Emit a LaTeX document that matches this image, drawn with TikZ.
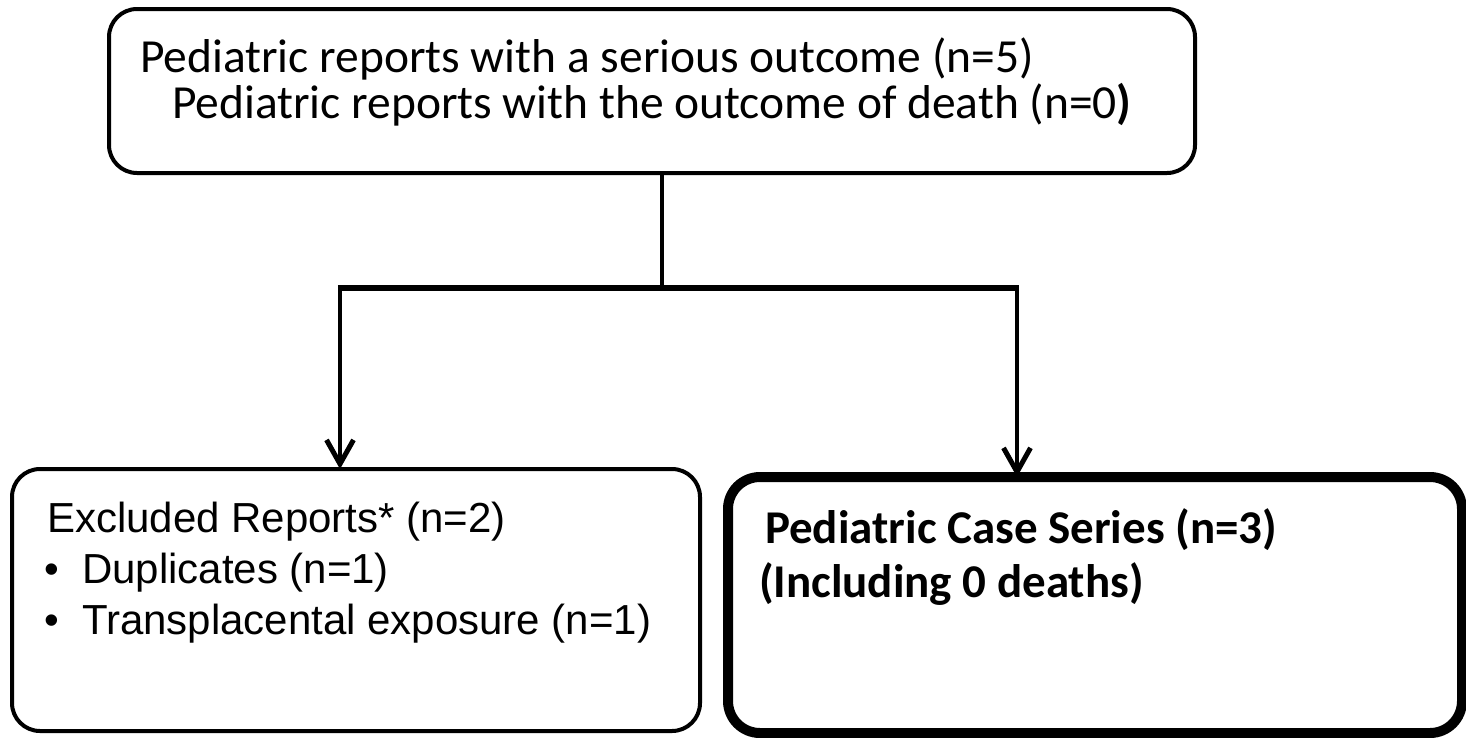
\documentclass[tikz,border=0pt]{standalone}
\usepackage{fontspec}
\newfontfamily\calibri{Carlito}
\newfontfamily\arial{Liberation Sans}
\usetikzlibrary{arrows.meta}
\begin{document}
\begin{tikzpicture}[x=1pt,y=-1pt,
  box/.style={draw=black, rounded corners=28pt, inner sep=0pt, outer sep=0pt, fill=white},
  txt/.style={anchor=base west, inner sep=0pt, outer sep=0pt},
  conn/.style={draw=black, line width=4.5pt},
  barb/.tip={Straight Barb[length=24pt,width=27pt,line width=5pt]}
]
\useasboundingbox[fill=white] (0,0) rectangle (1466,737);
% boxes
\node[box, line width=4pt, minimum width=1086pt, minimum height=164pt] (top) at (652,91) {};
\node[box, line width=4pt, minimum width=688pt, minimum height=262pt] (left) at (356,600) {};
\node[box, line width=10pt, minimum width=734pt, minimum height=256pt, rounded corners=32pt] (right) at (1095,605) {};
% top texts
\node[txt, font=\calibri\fontsize{47.5}{47.5}\selectfont] (t1) at (140,72) {Pediatric reports with a serious outcome (n=5)};
\node[txt, font=\calibri\fontsize{47.5}{47.5}\selectfont] (t2) at (172,118) {Pediatric reports with the outcome of death (n=0\textbf{)}};
% left texts
\node[txt, font=\arial\fontsize{42}{42}\selectfont] (l1) at (47,532) {Excluded Reports* (n=2)};
\node[txt, font=\arial\fontsize{42}{42}\selectfont] (b1) at (44,583) {•};
\node[txt, font=\arial\fontsize{42}{42}\selectfont] (l2) at (82,583) {Duplicates (n=1)};
\node[txt, font=\arial\fontsize{42}{42}\selectfont] (b2) at (44,634) {•};
\node[txt, font=\arial\fontsize{42}{42}\selectfont] (l3) at (82,634) {Transplacental exposure (n=1)};
% right texts
\node[txt, font=\calibri\bfseries\fontsize{47}{47}\selectfont] (r1) at (765,543) {Pediatric Case Series (n=3)};
\node[txt, font=\calibri\bfseries\fontsize{47}{47}\selectfont] (r2) at (759,597) {(Including 0 deaths)};
% connectors
\coordinate (jM) at (662,288);
\coordinate (jL) at (340,288);
\coordinate (jR) at (1017,288);
\draw[conn, line width=4pt] (top.south -| jM) -- (jM);
\draw[conn, barb-barb] (jL |- left.north) -- (jL) -- (jR) -- (jR |- right.north);
\draw[conn, line width=6pt] ([xshift=-2.25pt]jL) -- ([xshift=2.25pt]jR);
\end{tikzpicture}
\end{document}
